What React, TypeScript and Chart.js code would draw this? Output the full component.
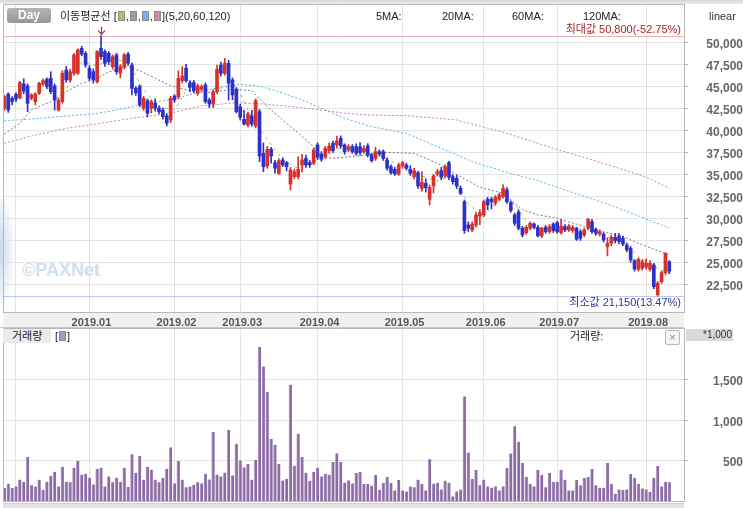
import React, { useEffect, useRef } from "react";
import { Chart, registerables } from "chart.js";

Chart.register(...registerables);

const FONT = '"Liberation Sans", "Noto Sans CJK KR", Arial, sans-serif';

// ---- Daily OHLC (KRW), 2018-11-28 .. 2019-08-09 ----
const opens = [
  42535, 44160, 43670, 44130, 43750, 45300, 45070, 43670, 43290, 44240,
  45300, 45840, 45950, 45070, 42340, 43290, 46890, 45760, 46520, 46520,
  49360, 48790, 47090, 46700, 45560, 49360, 48980, 48790, 47270, 48600,
  46520, 47270, 48710, 47460, 44800, 45000, 42540, 43400, 42540, 43100,
  42540, 42340, 41660, 41200, 43930, 43860, 45680, 47090, 45450, 45450,
  44240, 44700, 45190, 43480, 43020, 44420, 47460, 46520, 47650, 45760,
  44700, 42720, 41280, 40630, 41660, 40520, 42150, 37410, 35970, 37870,
  36340, 35140, 36650, 36340, 33920, 34750, 34750, 36080, 36840, 36350,
  36270, 38360, 37330, 37030, 37710, 38550, 38360, 39120, 38360, 37790,
  38170, 38170, 38170, 37600, 38250, 37220, 36840, 37600, 37600, 36650,
  35890, 35590, 35060, 35970, 36080, 35590, 34750, 35210, 33400, 34000,
  32180, 33690, 35060, 35440, 34830, 36340, 34750, 34560, 33430, 31910,
  29250, 28690, 29250, 30280, 30390, 32180, 32180, 31720, 32180, 32470,
  33240, 31800, 30390, 30730, 28880, 28380, 28880, 29370, 28990, 28000,
  28990, 28490, 29370, 29520, 28380, 29060, 28690, 28610, 28880, 28490,
  28120, 28880, 29630, 28770, 28230, 28230, 26790, 27170, 27850, 28000,
  27740, 26980, 26600, 25200, 24210, 24330, 24440, 24210, 24700, 21300,
  22800, 23820, 25080,
];
const highs = [
  44000, 44300, 43860, 44300, 45600, 45900, 45300, 44200, 44300, 45500,
  45900, 46000, 46700, 45300, 43700, 46800, 47300, 47000, 48800, 49300,
  49600, 49000, 47400, 47000, 49100, 50800, 49200, 49000, 48600, 48800,
  47500, 48800, 48900, 47700, 45000, 45200, 43900, 43600, 43500, 43600,
  42800, 42600, 41900, 43900, 44100, 46800, 47270, 47540, 45700, 45700,
  45300, 45200, 45400, 43700, 44600, 47460, 47800, 48220, 48000, 46000,
  44900, 43000, 42300, 42100, 42300, 43600, 42400, 38590, 38200, 38100,
  36600, 36800, 36900, 36500, 35800, 35600, 37030, 37300, 37200, 36600,
  38000, 38600, 37600, 38200, 38600, 38800, 39380, 39400, 38500, 38400,
  38400, 38500, 38620, 38300, 38500, 37400, 38100, 37800, 37800, 36900,
  36100, 35800, 36300, 36500, 36300, 36000, 35700, 35400, 35300, 34500,
  33800, 35000, 35600, 35800, 36100, 36500, 35000, 34900, 33700, 32100,
  29600, 29600, 30700, 31000, 32100, 32400, 32400, 32600, 32900, 33810,
  33500, 32000, 30600, 31000, 29100, 29200, 29600, 29500, 29200, 29000,
  29200, 29300, 29500, 29700, 29900, 29300, 29300, 29200, 29000, 28700,
  28900, 30000, 29900, 28900, 28700, 28400, 27800, 28100, 28300, 28300,
  28000, 27200, 26800, 25300, 25500, 25300, 25400, 25200, 24900, 22800,
  24000, 26100, 25200,
];
const lows = [
  42300, 42070, 42910, 43300, 43600, 44200, 42150, 43500, 42910, 44100,
  45100, 44800, 44200, 42340, 42200, 43100, 45500, 45500, 46300, 46400,
  48500, 47200, 45700, 45400, 45400, 48100, 47300, 47500, 47000, 46400,
  46000, 47000, 47400, 44050, 44000, 42700, 42300, 41550, 42000, 42200,
  41900, 41300, 40520, 40900, 43200, 43600, 45400, 45500, 44420, 44300,
  44000, 44500, 43100, 42600, 42600, 44200, 46200, 46300, 43480, 43500,
  42000, 41200, 40600, 40400, 40500, 40300, 36460, 35320, 35700, 36300,
  35140, 35000, 35900, 35400, 33240, 34500, 34500, 35300, 35800, 35800,
  36100, 36700, 36500, 36800, 37400, 37500, 38000, 38000, 37300, 37600,
  37400, 37200, 37200, 37400, 37000, 36400, 36600, 37100, 36600, 35500,
  35000, 34900, 34900, 35700, 35500, 34900, 34500, 33400, 33100, 33000,
  31530, 32900, 34800, 34400, 34600, 34400, 33900, 33400, 32700, 28310,
  28500, 28500, 29000, 29300, 30200, 31000, 31100, 31500, 32000, 32300,
  31700, 30700, 29200, 28700, 27900, 28200, 28700, 28800, 27900, 27800,
  28300, 28300, 28400, 28300, 28200, 28500, 28500, 28400, 27500, 27500,
  27900, 28700, 28300, 28100, 28000, 27300, 25730, 26900, 27200, 27100,
  26900, 26200, 25000, 24000, 24000, 24100, 24200, 24000, 22000, 21150,
  22600, 23600, 23700,
];
const closes = [
  43855, 42340, 43290, 43560, 45450, 44500, 43100, 44050, 44130, 45380,
  45680, 45000, 44420, 43480, 43480, 46520, 45760, 46700, 48600, 49170,
  48710, 47460, 45950, 45760, 48980, 48410, 47650, 47840, 48410, 46700,
  47270, 48600, 47650, 44810, 44300, 42910, 43670, 41970, 43290, 42540,
  42150, 41580, 40830, 43670, 43480, 45950, 46210, 45680, 44920, 44540,
  45070, 45000, 43290, 43020, 44420, 46970, 46520, 47650, 45380, 44050,
  42150, 41510, 40750, 41890, 40750, 43400, 37110, 35890, 37870, 37110,
  35710, 36570, 36080, 35890, 35510, 35320, 35590, 36650, 36080, 36100,
  37790, 36960, 36730, 37980, 38250, 37710, 38810, 38250, 37600, 38170,
  37600, 37410, 37480, 37980, 37220, 36570, 37600, 37330, 36840, 35710,
  35210, 35060, 36080, 36340, 35710, 35140, 35440, 33690, 34100, 33500,
  33540, 34830, 35320, 34680, 35890, 34680, 34180, 33690, 32860, 28610,
  28880, 29370, 30390, 30640, 31910, 31530, 31900, 32410, 32670, 33430,
  31910, 30900, 29440, 28880, 28120, 28990, 29440, 28990, 28000, 28880,
  28490, 29060, 28610, 28490, 29140, 28690, 29140, 28990, 27630, 27740,
  28690, 29900, 28490, 28310, 28490, 27550, 27170, 27850, 27470, 27350,
  27090, 26410, 25270, 24250, 25350, 25080, 24890, 24890, 22230, 22650,
  23820, 26030, 24000,
];
// Volume, in thousands of shares
const volumes = [
  161, 214, 161, 181, 264, 235, 545, 194, 181, 264,
  140, 240, 313, 363, 181, 425, 240, 231, 413, 495,
  326, 338, 289, 206, 396, 413, 181, 305, 231, 289,
  240, 413, 173, 578, 351, 557, 264, 425, 388, 264,
  231, 289, 400, 664, 218, 495, 264, 169, 181, 202,
  231, 218, 338, 268, 855, 326, 305, 351, 880, 317,
  710, 503, 416, 458, 264, 507, 1908, 1668, 1354, 772,
  698, 458, 255, 276, 1441, 437, 834, 545, 351, 251,
  359, 413, 305, 338, 326, 483, 590, 483, 227, 255,
  218, 347, 363, 210, 210, 190, 322, 140, 223, 297,
  223, 131, 260, 131, 119, 181, 169, 264, 211, 131,
  516, 214, 227, 144, 252, 227, 57, 119, 140, 1296,
  602, 273, 384, 194, 264, 181, 165, 181, 131, 181,
  409, 590, 925, 735, 471, 301, 214, 181, 384, 322,
  169, 347, 239, 239, 384, 264, 131, 131, 260, 194,
  285, 297, 396, 194, 165, 165, 471, 214, 90, 144,
  136, 144, 335, 289, 214, 156, 144, 111, 289, 434,
  181, 239, 231,
];

// Moving averages (trading-day index -> price)
const ma5Idx = [4, 8, 12, 16, 20, 24, 28, 32, 36, 40, 44, 48, 52, 56, 60, 64, 68, 72, 76, 80, 84, 88, 92, 96, 100, 104, 108, 112, 116, 120, 124, 128, 132, 136, 140, 144, 148, 152, 156, 160, 164, 168, 172];
const ma5Val = [43700, 44250, 44920, 44730, 47790, 47370, 48260, 47730, 44670, 42720, 42340, 45250, 44560, 44840, 45150, 41410, 39000, 36670, 35680, 36440, 37540, 38120, 37650, 37370, 36540, 35680, 34820, 34260, 34950, 31640, 30240, 32080, 31670, 28970, 28760, 28760, 28720, 28490, 28000, 27390, 25670, 24490, 23750];
const ma20Idx = [0, 4, 7, 12, 16, 20, 24, 27, 32, 35, 39, 43, 48, 52, 59, 64, 68, 72, 76, 80, 82, 85, 94, 98, 106, 112, 118, 123, 129, 134, 138, 142, 150, 155, 160, 165, 172];
const ma20Val = [39600, 40830, 42340, 43290, 44420, 45380, 45950, 46700, 47270, 46810, 45950, 45100, 44540, 44300, 44700, 44540, 42720, 41200, 39720, 38170, 37030, 36840, 37220, 37530, 37410, 36270, 34750, 33540, 32860, 31000, 30390, 30100, 29100, 28490, 27920, 27000, 25840];
const ma60Idx = [0, 6, 12, 16, 23, 29, 35, 40, 45, 50, 56, 61, 66, 71, 77, 82, 88, 95, 104, 112, 121, 130, 138, 147, 155, 164, 172];
const ma60Val = [41120, 41280, 41510, 41660, 41890, 42340, 42910, 43290, 43700, 44350, 44950, 45250, 45050, 44420, 43480, 42540, 41400, 40440, 39690, 38170, 36460, 35250, 34300, 32950, 31800, 30300, 28900];
const ma120Idx = [0, 7, 16, 25, 33, 42, 51, 60, 67, 76, 82, 88, 95, 104, 112, 117, 130, 142, 155, 166, 172];
const ma120Val = [38550, 39380, 40250, 40830, 41400, 41890, 42800, 43180, 43020, 42650, 42340, 41970, 41750, 41690, 41400, 41200, 39690, 37980, 36270, 34700, 33430];

const monthTickIdx = [3, 22, 44, 61, 81, 103, 124, 143, 166];
const monthLabels = ["", "2019.01", "2019.02", "2019.03", "2019.04", "2019.05", "2019.06", "2019.07", "2019.08"];
const priceTicks = [22500, 25000, 27500, 30000, 32500, 35000, 37500, 40000, 42500, 45000, 47500, 50000];
const volumeTicks = [500, 1000, 1500];

const maxPrice = 50800;
const minPrice = 21150;

// axis ranges
const X_MIN = -0.36;
const X_MAX = 175.8;
const Y_MIN = 19348;
const Y_MAX = 54404;
const V_MAX = 2144;

const UP = "#d8302b";
const DOWN = "#2d31c9";
const GRID = "#e3e3e3";
const AXIS = "#b8b8b8";

const fmt = (v: number) => Number(v).toLocaleString("en-US");

const monthAxis = (showLabels: boolean) => ({
  type: "linear" as const,
  min: X_MIN,
  max: X_MAX,
  bounds: "data" as const,
  offset: false,
  grid: { offset: false, color: GRID, drawTicks: false },
  border: { color: AXIS },
  afterBuildTicks: (s: any) => {
    s.ticks = monthTickIdx.map((v) => ({ value: v }));
  },
  ticks: {
    display: showLabels,
    autoSkip: false,
    maxRotation: 0,
    padding: 4,
    labelOffset: 2,
    color: "#555",
    font: { family: FONT, size: 11, weight: "bold" as const },
    callback: (v: any) => {
      const k = monthTickIdx.indexOf(Number(v));
      return k >= 0 ? monthLabels[k] : "";
    },
  },
  afterFit: (s: any) => {
    s.height = showLabels ? 16 : 0;
    s.paddingLeft = 0;
    s.paddingRight = 0;
  },
});

const valueAxis = (min: number, max: number, ticks: number[]) => ({
  position: "right" as const,
  min,
  max,
  bounds: "data" as const,
  grid: { color: GRID, tickLength: 4, tickColor: AXIS },
  border: { color: AXIS },
  afterBuildTicks: (s: any) => {
    s.ticks = ticks.map((v) => ({ value: v }));
  },
  ticks: {
    crossAlign: "far" as const,
    padding: 9,
    labelOffset: 2,
    color: "#666",
    font: { family: FONT, size: 12, weight: "bold" as const },
    callback: (v: any) => fmt(v),
  },
  afterFit: (s: any) => {
    s.width = 59;
    s.paddingTop = 0;
    s.paddingBottom = 0;
  },
});

const framePlugin = (band: boolean) => ({
  id: "frame",
  beforeDraw(chart: any) {
    if (!band) return;
    const { ctx, chartArea: a } = chart;
    ctx.save();
    ctx.fillStyle = "#f1f1f1";
    ctx.fillRect(a.left, a.bottom, a.right - a.left, chart.height - a.bottom);
    ctx.strokeStyle = "#c9c9c9";
    ctx.lineWidth = 1;
    ctx.beginPath();
    ctx.moveTo(0, chart.height - 0.5);
    ctx.lineTo(a.right, chart.height - 0.5);
    ctx.stroke();
    ctx.restore();
  },
  afterDraw(chart: any) {
    const { ctx, chartArea: a } = chart;
    ctx.save();
    ctx.strokeStyle = AXIS;
    ctx.lineWidth = 1;
    ctx.beginPath();
    ctx.moveTo(a.left + 0.5, a.bottom);
    ctx.lineTo(a.left + 0.5, a.top + 0.5);
    ctx.lineTo(a.right, a.top + 0.5);
    ctx.stroke();
    ctx.restore();
  },
});

const extremesPlugin = {
  id: "extremes",
  beforeDatasetsDraw(chart: any) {
    const { ctx, chartArea: a, scales } = chart;
    const yMax = Math.round(scales.y.getPixelForValue(maxPrice)) + 0.5;
    const yMin = Math.round(scales.y.getPixelForValue(minPrice)) + 0.5;
    ctx.save();
    ctx.lineWidth = 1;
    ctx.strokeStyle = "#e6b1b1";
    ctx.beginPath();
    ctx.moveTo(a.left, yMax);
    ctx.lineTo(a.right, yMax);
    ctx.stroke();
    ctx.strokeStyle = "#c4c7e7";
    ctx.beginPath();
    ctx.moveTo(a.left, yMin);
    ctx.lineTo(a.right, yMin);
    ctx.stroke();
    ctx.restore();
  },
  afterDatasetsDraw(chart: any) {
    const { ctx, scales } = chart;
    const iMax = highs.indexOf(maxPrice);
    const x = Math.round(scales.x.getPixelForValue(iMax)) + 0.5;
    const y = scales.y.getPixelForValue(maxPrice);
    ctx.save();
    ctx.strokeStyle = "#b3262b";
    ctx.lineWidth = 1.2;
    ctx.beginPath();
    ctx.moveTo(x, y - 9);
    ctx.lineTo(x, y - 1.5);
    ctx.moveTo(x - 3.5, y - 5);
    ctx.lineTo(x, y - 1.5);
    ctx.lineTo(x + 3.5, y - 5);
    ctx.stroke();
    ctx.restore();
  },
};

const maLine = (idx: number[], val: number[], color: string, dash: number[]) => ({
  type: "line" as const,
  data: idx.map((x, k) => ({ x, y: val[k] })),
  borderColor: color,
  borderWidth: 1,
  borderDash: dash,
  pointRadius: 0,
  tension: 0,
  order: 3,
});

export default function App() {
  const priceRef = useRef<HTMLCanvasElement>(null);
  const volRef = useRef<HTMLCanvasElement>(null);

  useEffect(() => {
    const idx = closes.map((_, i) => i);
    const colors = closes.map((c, i) => (c >= opens[i] ? UP : DOWN));

    const pc = new Chart(priceRef.current as HTMLCanvasElement, {
      type: "bar",
      data: {
        datasets: [
          maLine(ma120Idx, ma120Val, "#c97fa6", [2, 2]) as any,
          maLine(ma60Idx, ma60Val, "#58b2ea", [2, 2]) as any,
          maLine(ma20Idx, ma20Val, "#7a7a7a", [2, 2]) as any,
          maLine(ma5Idx, ma5Val, "#95cc4a", [3, 4]) as any,
          {
            data: idx.map((i) => ({ x: i, y: [lows[i], highs[i]] })),
            backgroundColor: colors,
            barThickness: 1,
            grouped: false,
            borderWidth: 0,
            order: 2,
          } as any,
          {
            data: idx.map((i) => ({ x: i, y: [opens[i], closes[i]] })),
            backgroundColor: colors,
            barThickness: 3,
            grouped: false,
            borderWidth: 0,
            order: 1,
          } as any,
        ],
      },
      options: {
        responsive: false,
        animation: false,
        events: [],
        layout: { padding: { left: 3, top: 4, right: 0, bottom: 0 } },
        plugins: { legend: { display: false }, tooltip: { enabled: false } },
        scales: {
          x: monthAxis(true) as any,
          y: valueAxis(Y_MIN, Y_MAX, priceTicks) as any,
        },
      },
      plugins: [framePlugin(true), extremesPlugin],
    });

    const vc = new Chart(volRef.current as HTMLCanvasElement, {
      type: "bar",
      data: {
        datasets: [
          {
            data: idx.map((i) => ({ x: i, y: volumes[i] })),
            backgroundColor: "#8b6ba2",
            borderColor: "#bda6cf",
            borderWidth: { left: 1, right: 0, top: 0, bottom: 0 },
            borderSkipped: false,
            barThickness: 3,
            grouped: false,
          } as any,
        ],
      },
      options: {
        responsive: false,
        animation: false,
        events: [],
        layout: { padding: { left: 3, top: 0, right: 0, bottom: 7 } },
        plugins: { legend: { display: false }, tooltip: { enabled: false } },
        scales: {
          x: monthAxis(false) as any,
          y: valueAxis(0, V_MAX, volumeTicks) as any,
        },
      },
      plugins: [framePlugin(false)],
    });

    return () => {
      pc.destroy();
      vc.destroy();
    };
  }, []);

  const abs = (left: number, top: number, extra: any = {}) => ({
    position: "absolute" as const,
    left,
    top,
    fontSize: 11,
    lineHeight: "14px",
    whiteSpace: "nowrap" as const,
    color: "#222",
    ...extra,
  });
  const sq = (c: string) => (
    <span
      style={{
        display: "inline-block",
        width: 5,
        height: 8,
        background: c,
        border: "1px solid #8a8a8a",
        margin: "0 1px",
        verticalAlign: "-1px",
      }}
    />
  );

  return (
    <div
      style={{
        position: "absolute",
        left: 0,
        top: 0,
        width: 743,
        height: 508,
        background: "#fff",
        overflow: "hidden",
        fontFamily: FONT,
      }}
    >
      <div style={{ position: "absolute", left: 0, top: 0, width: 743, height: 4, background: "linear-gradient(#d6d6d6,#eeeeee)" }} />
      <div
        style={{
          position: "absolute",
          left: 0,
          top: 188,
          width: 16,
          height: 124,
          background: "radial-gradient(ellipse 15px 62px at 0px 50%, #c9d7e8 0%, #e6edf6 55%, rgba(255,255,255,0) 100%)",
        }}
      />
      <div style={abs(22, 259, { fontSize: 18, lineHeight: "22px", fontWeight: "bold", color: "#d2dfee" })}>©PAXNet</div>

      <canvas ref={priceRef} width={743} height={328} style={{ position: "absolute", left: 0, top: 0 }} />
      <canvas ref={volRef} width={743} height={180} style={{ position: "absolute", left: 0, top: 328 }} />

      {/* price panel header */}
      <div
        style={{
          position: "absolute",
          left: 7,
          top: 8,
          width: 44,
          height: 15,
          borderRadius: 3,
          background: "linear-gradient(#b4b4b4,#969696)",
          color: "#fff",
          fontWeight: "bold",
          fontSize: 12,
          lineHeight: "15px",
          textAlign: "center",
        }}
      >
        Day
      </div>
      <div style={abs(60, 9)}>
        이동평균선 [{sq("#9ccc65")},{sq("#9e9e9e")},{sq("#6cb8ef")},{sq("#d08db2")}](5,20,60,120)
      </div>
      <div style={abs(376, 9)}>5MA:</div>
      <div style={abs(442, 9)}>20MA:</div>
      <div style={abs(512, 9)}>60MA:</div>
      <div style={abs(583, 9)}>120MA:</div>
      <div style={abs(709, 9, { color: "#333" })}>linear</div>
      <div style={{ ...abs(0, 22, { color: "#a3262b" }), left: undefined, right: 62 }}>최대값 50,800(-52.75%)</div>
      <div style={{ ...abs(0, 295, { color: "#2c3a8f" }), left: undefined, right: 62 }}>최소값 21,150(13.47%)</div>

      {/* volume panel header */}
      <div style={abs(3, 329, { width: 48, height: 14, background: "#ebebeb" })}>
        <span style={{ marginLeft: 9 }}>거래량</span>
      </div>
      <div style={abs(55, 329)}>[{sq("#b48fd0")}]</div>
      <div style={abs(570, 329)}>거래량:</div>
      <div
        style={{
          position: "absolute",
          left: 665,
          top: 330,
          width: 13,
          height: 13,
          border: "1px solid #b9b9b9",
          borderRadius: 2,
          background: "#f5f5f5",
          color: "#888",
          fontSize: 11,
          lineHeight: "13px",
          textAlign: "center",
        }}
      >
        ×
      </div>
      <div
        style={{
          position: "absolute",
          left: 686,
          top: 329,
          width: 47,
          height: 12,
          background: "#d9d9d9",
          color: "#333",
          fontSize: 10,
          lineHeight: "12px",
          textAlign: "right",
          paddingRight: 1,
          boxSizing: "border-box",
        }}
      >
        *1,000
      </div>
      <div
        style={{
          position: "absolute",
          left: 3,
          top: 503,
          width: 681,
          height: 5,
          background: "#e4e4e4",
          borderTop: "1px solid #cfcfcf",
          boxSizing: "border-box",
        }}
      />
    </div>
  );
}
